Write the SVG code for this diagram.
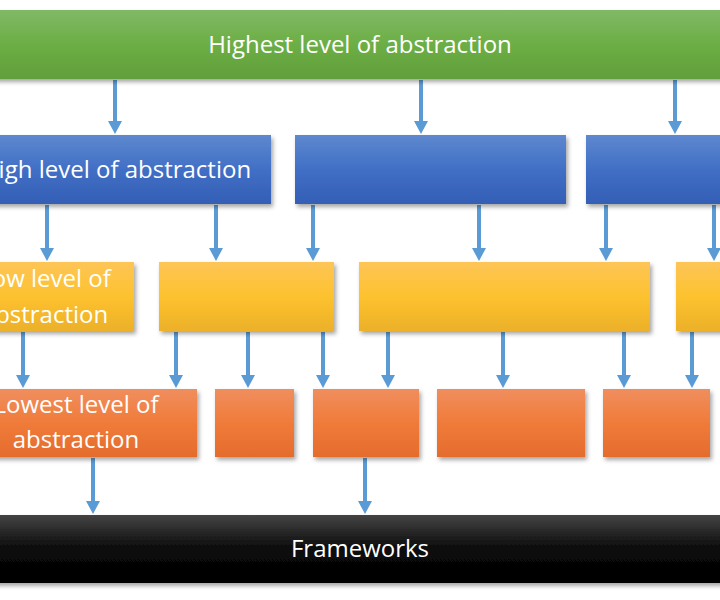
<svg xmlns="http://www.w3.org/2000/svg" width="720" height="600" viewBox="0 0 720 600">
<defs>
<linearGradient id="gGreen" x1="0" y1="0" x2="0" y2="1"><stop offset="0" stop-color="#80b966"/><stop offset="0.5" stop-color="#6cae45"/><stop offset="1" stop-color="#619f3b"/></linearGradient>
<linearGradient id="gBlue" x1="0" y1="0" x2="0" y2="1"><stop offset="0" stop-color="#5e88cf"/><stop offset="0.5" stop-color="#416fc5"/><stop offset="1" stop-color="#335fb5"/></linearGradient>
<linearGradient id="gYellow" x1="0" y1="0" x2="0" y2="1"><stop offset="0" stop-color="#fdc557"/><stop offset="0.5" stop-color="#fdc22e"/><stop offset="1" stop-color="#ecb02a"/></linearGradient>
<linearGradient id="gOrange" x1="0" y1="0" x2="0" y2="1"><stop offset="0" stop-color="#f08e5e"/><stop offset="0.5" stop-color="#f07b3a"/><stop offset="1" stop-color="#e46c2c"/></linearGradient>
<linearGradient id="gBlack" x1="0" y1="0" x2="0" y2="1"><stop offset="0" stop-color="#444"/><stop offset="0.5" stop-color="#0a0a0a"/><stop offset="1" stop-color="#000"/></linearGradient>
<filter id="sh" x="-10%" y="-20%" width="120%" height="150%"><feDropShadow dx="2" dy="3" stdDeviation="2" flood-color="#000" flood-opacity="0.35"/></filter>
</defs>
<style>
.lbl{font-family:"Open Sans","Liberation Sans",sans-serif;font-size:24px;fill:#fff;text-anchor:middle}
.c line{stroke:#5b9bd5;stroke-width:4}
.c path{fill:#5b9bd5}
</style>
<rect width="720" height="600" fill="#fff"/>
<g class="c" id="connectors">
<line x1="115" y1="80" x2="115" y2="122"/><path d="M108,121 L122,121 L115,134 Z"/>
<line x1="421" y1="80" x2="421" y2="122"/><path d="M414,121 L428,121 L421,134 Z"/>
<line x1="675" y1="80" x2="675" y2="122"/><path d="M668,121 L682,121 L675,134 Z"/>
<line x1="47" y1="205" x2="47" y2="249"/><path d="M40,248 L54,248 L47,261 Z"/>
<line x1="216" y1="205" x2="216" y2="249"/><path d="M209,248 L223,248 L216,261 Z"/>
<line x1="313" y1="205" x2="313" y2="249"/><path d="M306,248 L320,248 L313,261 Z"/>
<line x1="479" y1="205" x2="479" y2="249"/><path d="M472,248 L486,248 L479,261 Z"/>
<line x1="606" y1="205" x2="606" y2="249"/><path d="M599,248 L613,248 L606,261 Z"/>
<line x1="714" y1="205" x2="714" y2="249"/><path d="M707,248 L721,248 L714,261 Z"/>
<line x1="23" y1="332" x2="23" y2="376"/><path d="M16,375 L30,375 L23,388 Z"/>
<line x1="176" y1="332" x2="176" y2="376"/><path d="M169,375 L183,375 L176,388 Z"/>
<line x1="248" y1="332" x2="248" y2="376"/><path d="M241,375 L255,375 L248,388 Z"/>
<line x1="323" y1="332" x2="323" y2="376"/><path d="M316,375 L330,375 L323,388 Z"/>
<line x1="388" y1="332" x2="388" y2="376"/><path d="M381,375 L395,375 L388,388 Z"/>
<line x1="503" y1="332" x2="503" y2="376"/><path d="M496,375 L510,375 L503,388 Z"/>
<line x1="624" y1="332" x2="624" y2="376"/><path d="M617,375 L631,375 L624,388 Z"/>
<line x1="692" y1="332" x2="692" y2="376"/><path d="M685,375 L699,375 L692,388 Z"/>
<line x1="93" y1="458" x2="93" y2="502"/><path d="M86,501 L100,501 L93,514 Z"/>
<line x1="365" y1="458" x2="365" y2="502"/><path d="M358,501 L372,501 L365,514 Z"/>
</g>
<g id="highest"><rect x="-10" y="10" width="740" height="69" fill="url(#gGreen)" filter="url(#sh)"/><text class="lbl" x="360" y="53">Highest level of abstraction</text></g>
<g id="high1"><rect x="-40" y="135" width="311" height="69" fill="url(#gBlue)" filter="url(#sh)"/><text class="lbl" x="116" y="178">High level of abstraction</text></g>
<g id="high2"><rect x="295" y="135" width="271" height="69" fill="url(#gBlue)" filter="url(#sh)"/></g>
<g id="high3"><rect x="586" y="135" width="184" height="69" fill="url(#gBlue)" filter="url(#sh)"/></g>
<g id="low1"><rect x="-44" y="262" width="178" height="69" fill="url(#gYellow)" filter="url(#sh)"/><text class="lbl" x="45" y="287">Low level of</text><text class="lbl" x="45" y="323">abstraction</text></g>
<g id="low2"><rect x="159" y="262" width="175" height="69" fill="url(#gYellow)" filter="url(#sh)"/></g>
<g id="low3"><rect x="359" y="262" width="291" height="69" fill="url(#gYellow)" filter="url(#sh)"/></g>
<g id="low4"><rect x="676" y="262" width="84" height="69" fill="url(#gYellow)" filter="url(#sh)"/></g>
<g id="lowest1"><rect x="-45" y="389" width="242" height="68" fill="url(#gOrange)" filter="url(#sh)"/><text class="lbl" x="76" y="413">Lowest level of</text><text class="lbl" x="76" y="448">abstraction</text></g>
<g id="lowest2"><rect x="215" y="389" width="79" height="68" fill="url(#gOrange)" filter="url(#sh)"/></g>
<g id="lowest3"><rect x="313" y="389" width="106" height="68" fill="url(#gOrange)" filter="url(#sh)"/></g>
<g id="lowest4"><rect x="437" y="389" width="148" height="68" fill="url(#gOrange)" filter="url(#sh)"/></g>
<g id="lowest5"><rect x="603" y="389" width="107" height="68" fill="url(#gOrange)" filter="url(#sh)"/></g>
<g id="frameworks"><rect x="-10" y="515" width="740" height="68" fill="url(#gBlack)" filter="url(#sh)"/><text class="lbl" x="360" y="557">Frameworks</text></g>
</svg>
